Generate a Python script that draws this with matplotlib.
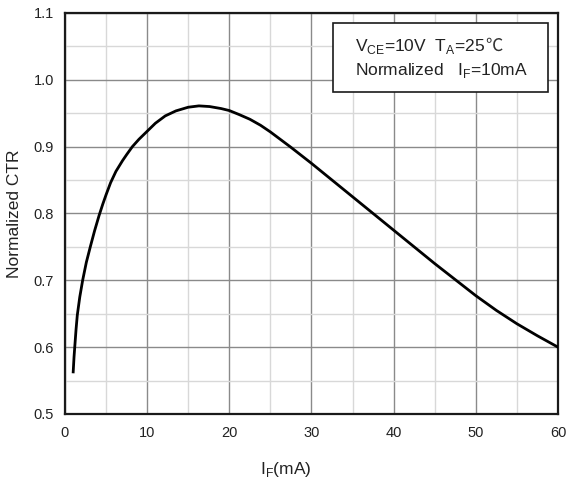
import matplotlib
matplotlib.use("Agg")
import matplotlib.pyplot as plt
from matplotlib.patches import Rectangle
from matplotlib.ticker import MultipleLocator

plt.rcParams['font.family'] = ['Liberation Sans', 'DejaVu Sans']
plt.rcParams['mathtext.fontset'] = 'custom'
plt.rcParams['mathtext.rm'] = 'Liberation Sans'

# values
i_f = [1.0, 1.1, 1.2, 1.35, 1.5, 1.8, 2.15, 2.6, 3.1, 3.6, 4.15, 4.6, 5.0, 5.55,
       6.2, 7.0, 7.5, 8.2, 9.0, 10.0, 11.0, 12.2, 13.5, 15.0, 16.3, 17.6, 19.0,
       20.0, 21.2, 22.5, 23.8, 25.0, 27.5, 30.0, 32.5, 35.0, 37.5, 40.0,
       42.5, 45.0, 47.5, 50.0, 52.5, 55.0, 57.5, 60.0]
ctr = [0.563, 0.585, 0.602, 0.627, 0.648, 0.675, 0.700, 0.727, 0.751, 0.774,
       0.797, 0.814, 0.828, 0.846, 0.863, 0.879, 0.888, 0.900, 0.911, 0.923,
       0.935, 0.946, 0.9535, 0.959, 0.961, 0.960, 0.957, 0.954, 0.948, 0.941,
       0.932, 0.922, 0.899, 0.875, 0.850, 0.825, 0.800, 0.775,
       0.750, 0.725, 0.701, 0.677, 0.655, 0.635, 0.617, 0.600]

x_ticks = [0, 10, 20, 30, 40, 50, 60]
y_ticks = [0.5, 0.6, 0.7, 0.8, 0.9, 1.0, 1.1]

fig = plt.figure(figsize=(5.68, 4.79), dpi=100)
ax = fig.add_axes([0.1144, 0.1357, 0.868, 0.8372])

ax.plot(i_f, ctr, color='black', lw=2.0, zorder=3)

ax.set_xlim(0, 60)
ax.set_ylim(0.5, 1.1)
ax.set_xticks(x_ticks)
ax.set_yticks(y_ticks)
ax.set_yticklabels([f"{v:.1f}" for v in y_ticks])
ax.xaxis.set_minor_locator(MultipleLocator(5))
ax.yaxis.set_minor_locator(MultipleLocator(0.05))
ax.grid(which='major', color='#8a8a8a', lw=1.0)
ax.grid(which='minor', color='#d8d8d8', lw=1.0)
ax.set_axisbelow(True)
ax.tick_params(which='both', length=0)
ax.tick_params(axis='x', pad=9, labelsize=10.5, labelcolor='#222222')
ax.tick_params(axis='y', pad=8, labelsize=10.5, labelcolor='#222222')
for s in ax.spines.values():
    s.set_linewidth(1.6)
    s.set_color('#1a1a1a')

ax.set_ylabel('Normalized CTR', fontsize=12.5, color='#222222', labelpad=8)
ax.set_xlabel(r'I$_{\mathregular{F}}$(mA)', fontsize=12.5, color='#222222', labelpad=14)
ax.xaxis.set_label_coords(0.447, -0.115)

# condition box
ax.add_patch(Rectangle((0.5436, 0.803), 0.4361, 0.172, transform=ax.transAxes,
                       fc='white', ec='#1a1a1a', lw=1.2, zorder=4))
t1 = ax.text(0.588, 0.906, r'V$_{\mathregular{CE}}$=10V  T$_{\mathregular{A}}$=25',
             transform=ax.transAxes, fontsize=12.5, color='#222222',
             va='baseline', ha='left', zorder=5)
ax.annotate('℃', xy=(1.0, 0.906), xycoords=(t1, 'axes fraction'),
            fontsize=12.5, color='#333333', family=['Noto Sans CJK SC', 'DejaVu Sans'],
            va='baseline', ha='left', zorder=5)
ax.text(0.588, 0.846, r'Normalized   I$_{\mathregular{F}}$=10mA',
        transform=ax.transAxes, fontsize=12.5, color='#222222',
        va='baseline', ha='left', zorder=5)

fig.savefig('out.png', dpi=100)
